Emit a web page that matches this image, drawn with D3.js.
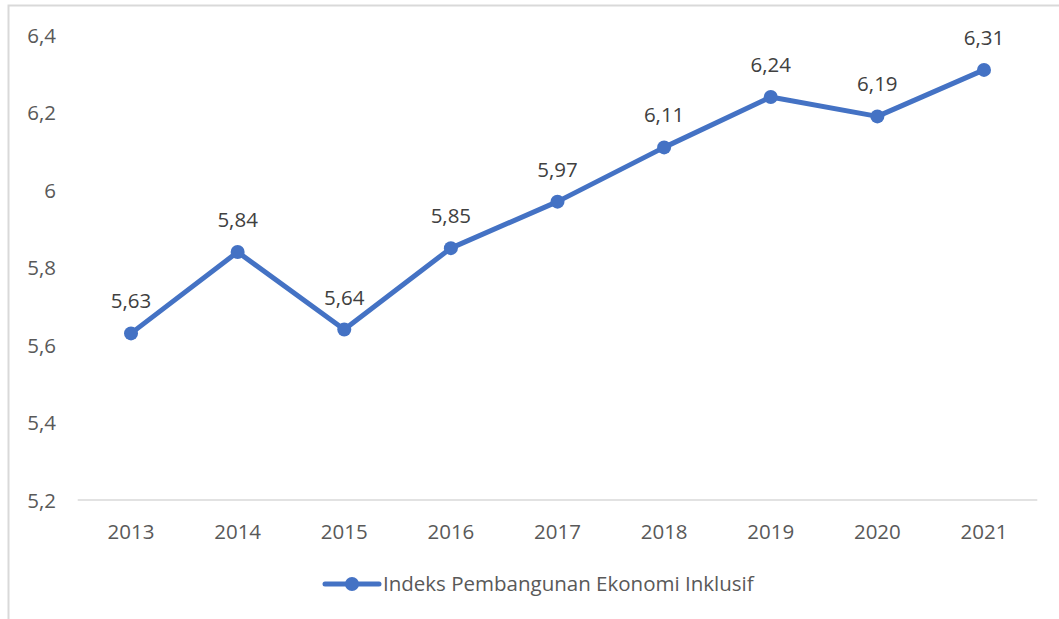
<!DOCTYPE html>
<html><head><meta charset="utf-8">
<script src="https://cdn.jsdelivr.net/npm/d3@7"></script>
<style>body{margin:0;background:#fff}svg{display:block}text{font-family:"Open Sans","Noto Sans",sans-serif;fill:#595959}</style>
</head><body>
<svg id="c" width="1059" height="619"></svg>
<script>
const years = ["2013","2014","2015","2016","2017","2018","2019","2020","2021"];
const values = [5.63,5.84,5.64,5.85,5.97,6.11,6.24,6.19,6.31];
const yTicks = [5.2,5.4,5.6,5.8,6.0,6.2,6.4];
const seriesName = "Indeks Pembangunan Ekonomi Inklusif";

const svg = d3.select("#c");
const color = "#4472C4";
const FS = 20.5;

svg.append("path").attr("d","M8.5,619 V5.5 H1059").attr("fill","none").attr("stroke","#d9d9d9").attr("stroke-width",2);

const x = d3.scaleBand().domain(years).range([77.7,1037.3]);
const y = d3.scaleLinear().domain([5.2,6.4]).range([500,35]);

// baseline
svg.append("line").attr("x1",x.range()[0]).attr("x2",x.range()[1]).attr("y1",y(5.2)).attr("y2",y(5.2)).attr("stroke","#d9d9d9").attr("stroke-width",1.5);

const yAxis = svg.append("g").attr("transform","translate(56,0)")
  .call(d3.axisLeft(y).tickValues(yTicks).tickSize(0).tickPadding(0).tickFormat(d => (d===6?"6":d.toFixed(1)).replace(".",",")));
yAxis.select(".domain").remove();
yAxis.selectAll("text").attr("font-size",FS).attr("dy","0.36em").style("fill","#595959");

const xAxis = svg.append("g").attr("transform","translate(0,500)")
  .call(d3.axisBottom(x).tickSize(0));
xAxis.select(".domain").remove();
xAxis.selectAll("text").attr("font-size",FS).attr("y",38.5).attr("dy","0").style("fill","#595959");

const cx = d => x(d) + x.bandwidth()/2;
const data = years.map((yr,i)=>({yr, v: values[i]}));

svg.append("path").datum(data)
  .attr("d", d3.line().x(d=>cx(d.yr)).y(d=>y(d.v)))
  .attr("fill","none").attr("stroke",color).attr("stroke-width",5).attr("stroke-linejoin","round").attr("stroke-linecap","round");

svg.selectAll("circle.pt").data(data).join("circle").attr("class","pt")
  .attr("cx",d=>cx(d.yr)).attr("cy",d=>y(d.v)).attr("r",7).attr("fill",color);

svg.selectAll("text.lbl").data(data).join("text").attr("class","lbl")
  .attr("x",d=>cx(d.yr)).attr("y",d=>y(d.v)-25).attr("text-anchor","middle")
  .attr("font-size",FS).style("fill","#404040").text(d=>d.v.toFixed(2).replace(".",","));

// legend
const lg = svg.append("g");
lg.append("line").attr("x1",325).attr("x2",379).attr("y1",584).attr("y2",584).attr("stroke",color).attr("stroke-width",5).attr("stroke-linecap","round");
lg.append("circle").attr("cx",352).attr("cy",584).attr("r",7).attr("fill",color);
lg.append("text").attr("x",383).attr("y",591).attr("font-size",FS).text(seriesName);
</script>
</body></html>
